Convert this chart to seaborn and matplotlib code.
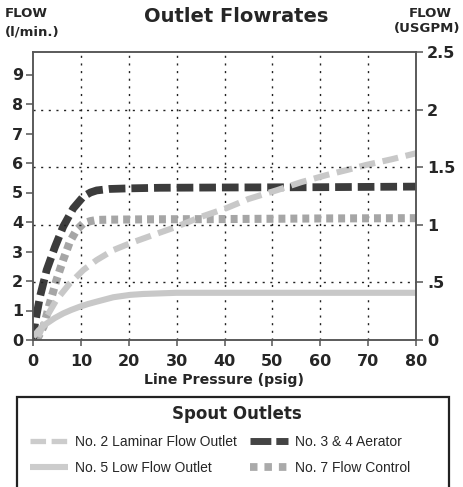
import numpy as np
import matplotlib
matplotlib.use('Agg')
import matplotlib.pyplot as plt
import seaborn as sns
from matplotlib.patches import Rectangle
from matplotlib.lines import Line2D

# Curve readings (line pressure psig -> flow l/min)
laminar_x = [1.1, 2.85, 4.9, 7.7, 10.5, 13.3, 16.8, 20.3, 25.1, 30, 35, 40.4, 45, 51, 56, 61.3, 66, 69.5, 75, 80]
laminar_y = [0.11, 0.79, 1.36, 1.92, 2.37, 2.71, 3.05, 3.28, 3.56, 3.84, 4.17, 4.47, 4.78, 5.08, 5.35, 5.59, 5.78, 5.93, 6.13, 6.33]

aerator_x = [0, 0.42, 1.46, 2.85, 4.6, 6.3, 8.4, 10.5, 12, 13.3, 16, 20, 26.5, 40, 60, 80]
aerator_y = [0, 0.57, 1.47, 2.37, 3.16, 3.84, 4.46, 4.86, 5.0, 5.07, 5.12, 5.14, 5.16, 5.17, 5.18, 5.2]

low_x = [0.07, 1.2, 2.85, 4.5, 6.3, 8, 9.8, 11.5, 13.3, 16.8, 20.3, 23, 26.5, 30, 40, 60, 80]
low_y = [0.11, 0.33, 0.56, 0.74, 0.9, 1.02, 1.13, 1.22, 1.3, 1.45, 1.53, 1.56, 1.58, 1.6, 1.6, 1.6, 1.6]

control_x = [0.77, 2.2, 3.5, 4.9, 6.3, 7.7, 9.1, 10.5, 12, 13.3, 16, 23.7, 40, 60, 80]
control_y = [0.0, 0.45, 1.24, 2.03, 2.71, 3.33, 3.73, 3.95, 4.03, 4.07, 4.08, 4.09, 4.1, 4.12, 4.13]

x_ticks = [0, 10, 20, 30, 40, 50, 60, 70, 80]
lpm_ticks = [0, 1, 2, 3, 4, 5, 6, 7, 8, 9]
gpm_ticks = [0, 0.5, 1, 1.5, 2, 2.5]
gpm_labels = ['0', '.5', '1', '1.5', '2', '2.5']

sns.set_style('white')
plt.rcParams['font.family'] = ['DejaVu Sans']
plt.rcParams['lines.scale_dashes'] = False

fig = plt.figure(figsize=(4.64, 4.87), dpi=100)
ax = fig.add_axes([33 / 464, 1 - 340 / 487, (416 - 33) / 464, (340 - 52) / 487])
ax2 = ax.twinx()

dark = '#3c3c3c'
light = '#c8c8c8'
mid = '#a6a6a6'

sns.lineplot(x=control_x, y=control_y, ax=ax, color=mid, linewidth=5.8,
             linestyle=(0, (5, 3.6)), errorbar=None, dash_capstyle='butt')
sns.lineplot(x=aerator_x, y=aerator_y, ax=ax, color=dark, linewidth=5.6,
             linestyle=(0, (12, 4.3)), errorbar=None, dash_capstyle='butt')
sns.lineplot(x=low_x, y=low_y, ax=ax, color=light, linewidth=4.4,
             errorbar=None, solid_capstyle='butt')
sns.lineplot(x=laminar_x, y=laminar_y, ax=ax, color=light, linewidth=4.4,
             linestyle=(0, (11.5, 5.5)), errorbar=None, dash_capstyle='butt')

ax.set_xlim(0, 80)
ax.set_ylim(0, (340 - 52) / 29.5)
ax2.set_ylim(0, 2.5)

ax.set_xticks(x_ticks)
ax.set_xticklabels([str(v) for v in x_ticks], fontsize=11.5, fontweight='bold')
ax.set_yticks(lpm_ticks)
ax.set_yticklabels([str(v) for v in lpm_ticks], fontsize=11.5, fontweight='bold')
ax2.set_yticks(gpm_ticks)
ax2.set_yticklabels(gpm_labels, fontsize=11.5, fontweight='bold')

ax.tick_params(axis='x', bottom=True, length=4, width=1.1, color='#555555', pad=6)
ax.tick_params(axis='y', left=True, length=5, width=1.1, color='#555555', pad=2)
ax2.tick_params(axis='y', right=True, length=5, width=1.1, color='#555555', pad=3)

# dotted grid: vertical on pressure, horizontal on USGPM
for xv in x_ticks[1:-1]:
    ax.axvline(xv, color='#222222', linewidth=1.0, linestyle=(0, (1.5, 4)), zorder=0)
for yv in gpm_ticks[1:-1]:
    ax2.axhline(yv, color='#222222', linewidth=1.0, linestyle=(0, (1.5, 4)), zorder=0)

for a in (ax, ax2):
    for sp in a.spines.values():
        sp.set_color('#555555')
        sp.set_linewidth(1.1)

ax.set_xlabel('Line Pressure (psig)', fontsize=10.2, fontweight='bold', labelpad=3)
ax.set_ylabel('')
ax2.set_ylabel('')

fig.text(236 / 464, 1 - 17 / 487, 'Outlet Flowrates', ha='center', va='center',
         fontsize=14, fontweight='bold')
fig.text(5 / 464, 1 - 13.5 / 487, 'FLOW', ha='left', va='center',
         fontsize=9.5, fontweight='bold')
fig.text(5 / 464, 1 - 32 / 487, '(l/min.)', ha='left', va='center',
         fontsize=9.5, fontweight='bold')
fig.text(430 / 464, 1 - 13.5 / 487, 'FLOW', ha='center', va='center',
         fontsize=9.5, fontweight='bold')
fig.text(427 / 464, 1 - 28.5 / 487, '(USGPM)', ha='center', va='center',
         fontsize=9.5, fontweight='bold')

# legend box
fig.patches.append(Rectangle((17 / 464, -0.05), (449 - 17) / 464, 0.05 + 1 - 397 / 487,
                             transform=fig.transFigure, fill=False,
                             edgecolor='#222222', linewidth=1.6))
fig.text(237 / 464, 1 - 414 / 487, 'Spout Outlets', ha='center', va='center',
         fontsize=12, fontweight='bold')

handles = [
    Line2D([], [], color='#cccccc', linewidth=3.8, linestyle=(0, (11.2, 4)), dash_capstyle='butt'),
    Line2D([], [], color='#cccccc', linewidth=4.4, solid_capstyle='butt'),
    Line2D([], [], color='#444444', linewidth=5.0, linestyle=(0, (15, 3.6)), dash_capstyle='butt'),
    Line2D([], [], color='#aaaaaa', linewidth=5.6, linestyle=(0, (5.4, 5)), dash_capstyle='butt'),
]
labels = ['No. 2 Laminar Flow Outlet', 'No. 5 Low Flow Outlet',
          'No. 3 & 4 Aerator', 'No. 7 Flow Control']
fig.legend(handles, labels, ncol=2, loc='upper left',
           bbox_to_anchor=(30 / 464, 1 - 435 / 487), frameon=False,
           prop={'family': 'Liberation Sans', 'size': 10},
           handlelength=2.7, handletextpad=0.55, columnspacing=0.95,
           labelspacing=0.85, borderpad=0, borderaxespad=0)

fig.savefig('out.png', dpi=100)
